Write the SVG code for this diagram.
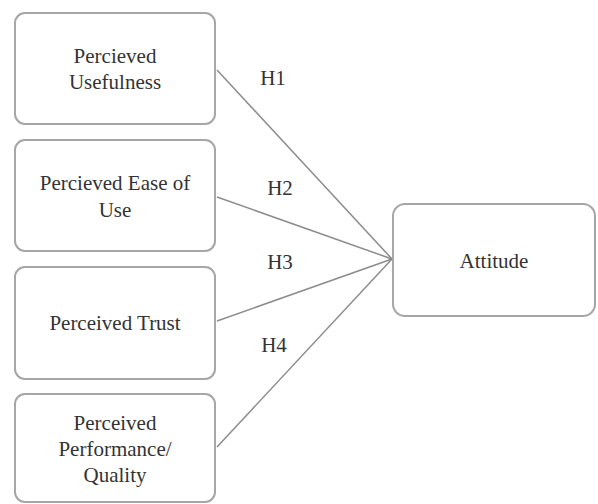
<svg xmlns="http://www.w3.org/2000/svg" width="598" height="504" viewBox="0 0 598 504">
<style>
.box{fill:#fff;stroke:#a6a6a6;stroke-width:2}
.c{stroke:#8c8c8c;stroke-width:1.5;fill:none}
</style>
<rect width="598" height="504" fill="#fff"/>
<g id="connectors">
<line class="c" x1="217" y1="70" x2="392" y2="259"/>
<line class="c" x1="217" y1="197" x2="392" y2="259"/>
<line class="c" x1="217" y1="321" x2="392" y2="259"/>
<line class="c" x1="217" y1="447" x2="392" y2="259"/>
</g>
<g font-family="Liberation Serif, DejaVu Serif, serif" font-size="21" fill="#333" text-anchor="middle">
<g id="labels">
<text x="273" y="85">H1</text>
<text x="280" y="195">H2</text>
<text x="280" y="269">H3</text>
<text x="274" y="352">H4</text>
</g>
<g id="n1"><rect class="box" x="15" y="13" width="200" height="111" rx="10"/>
<text x="115" y="63">Percieved</text><text x="115" y="89">Usefulness</text></g>
<g id="n2"><rect class="box" x="15" y="140" width="200" height="111" rx="10"/>
<text x="115" y="190">Percieved Ease of</text><text x="115" y="217">Use</text></g>
<g id="n3"><rect class="box" x="15" y="267" width="200" height="112" rx="10"/>
<text x="115" y="330">Perceived Trust</text></g>
<g id="n4"><rect class="box" x="15" y="394" width="200" height="108" rx="10"/>
<text x="115" y="430">Perceived</text><text x="115" y="456">Performance/</text><text x="115" y="482">Quality</text></g>
<g id="n5"><rect class="box" x="393" y="204" width="202" height="112" rx="12"/>
<text x="494" y="268">Attitude</text></g>
</g>
</svg>
